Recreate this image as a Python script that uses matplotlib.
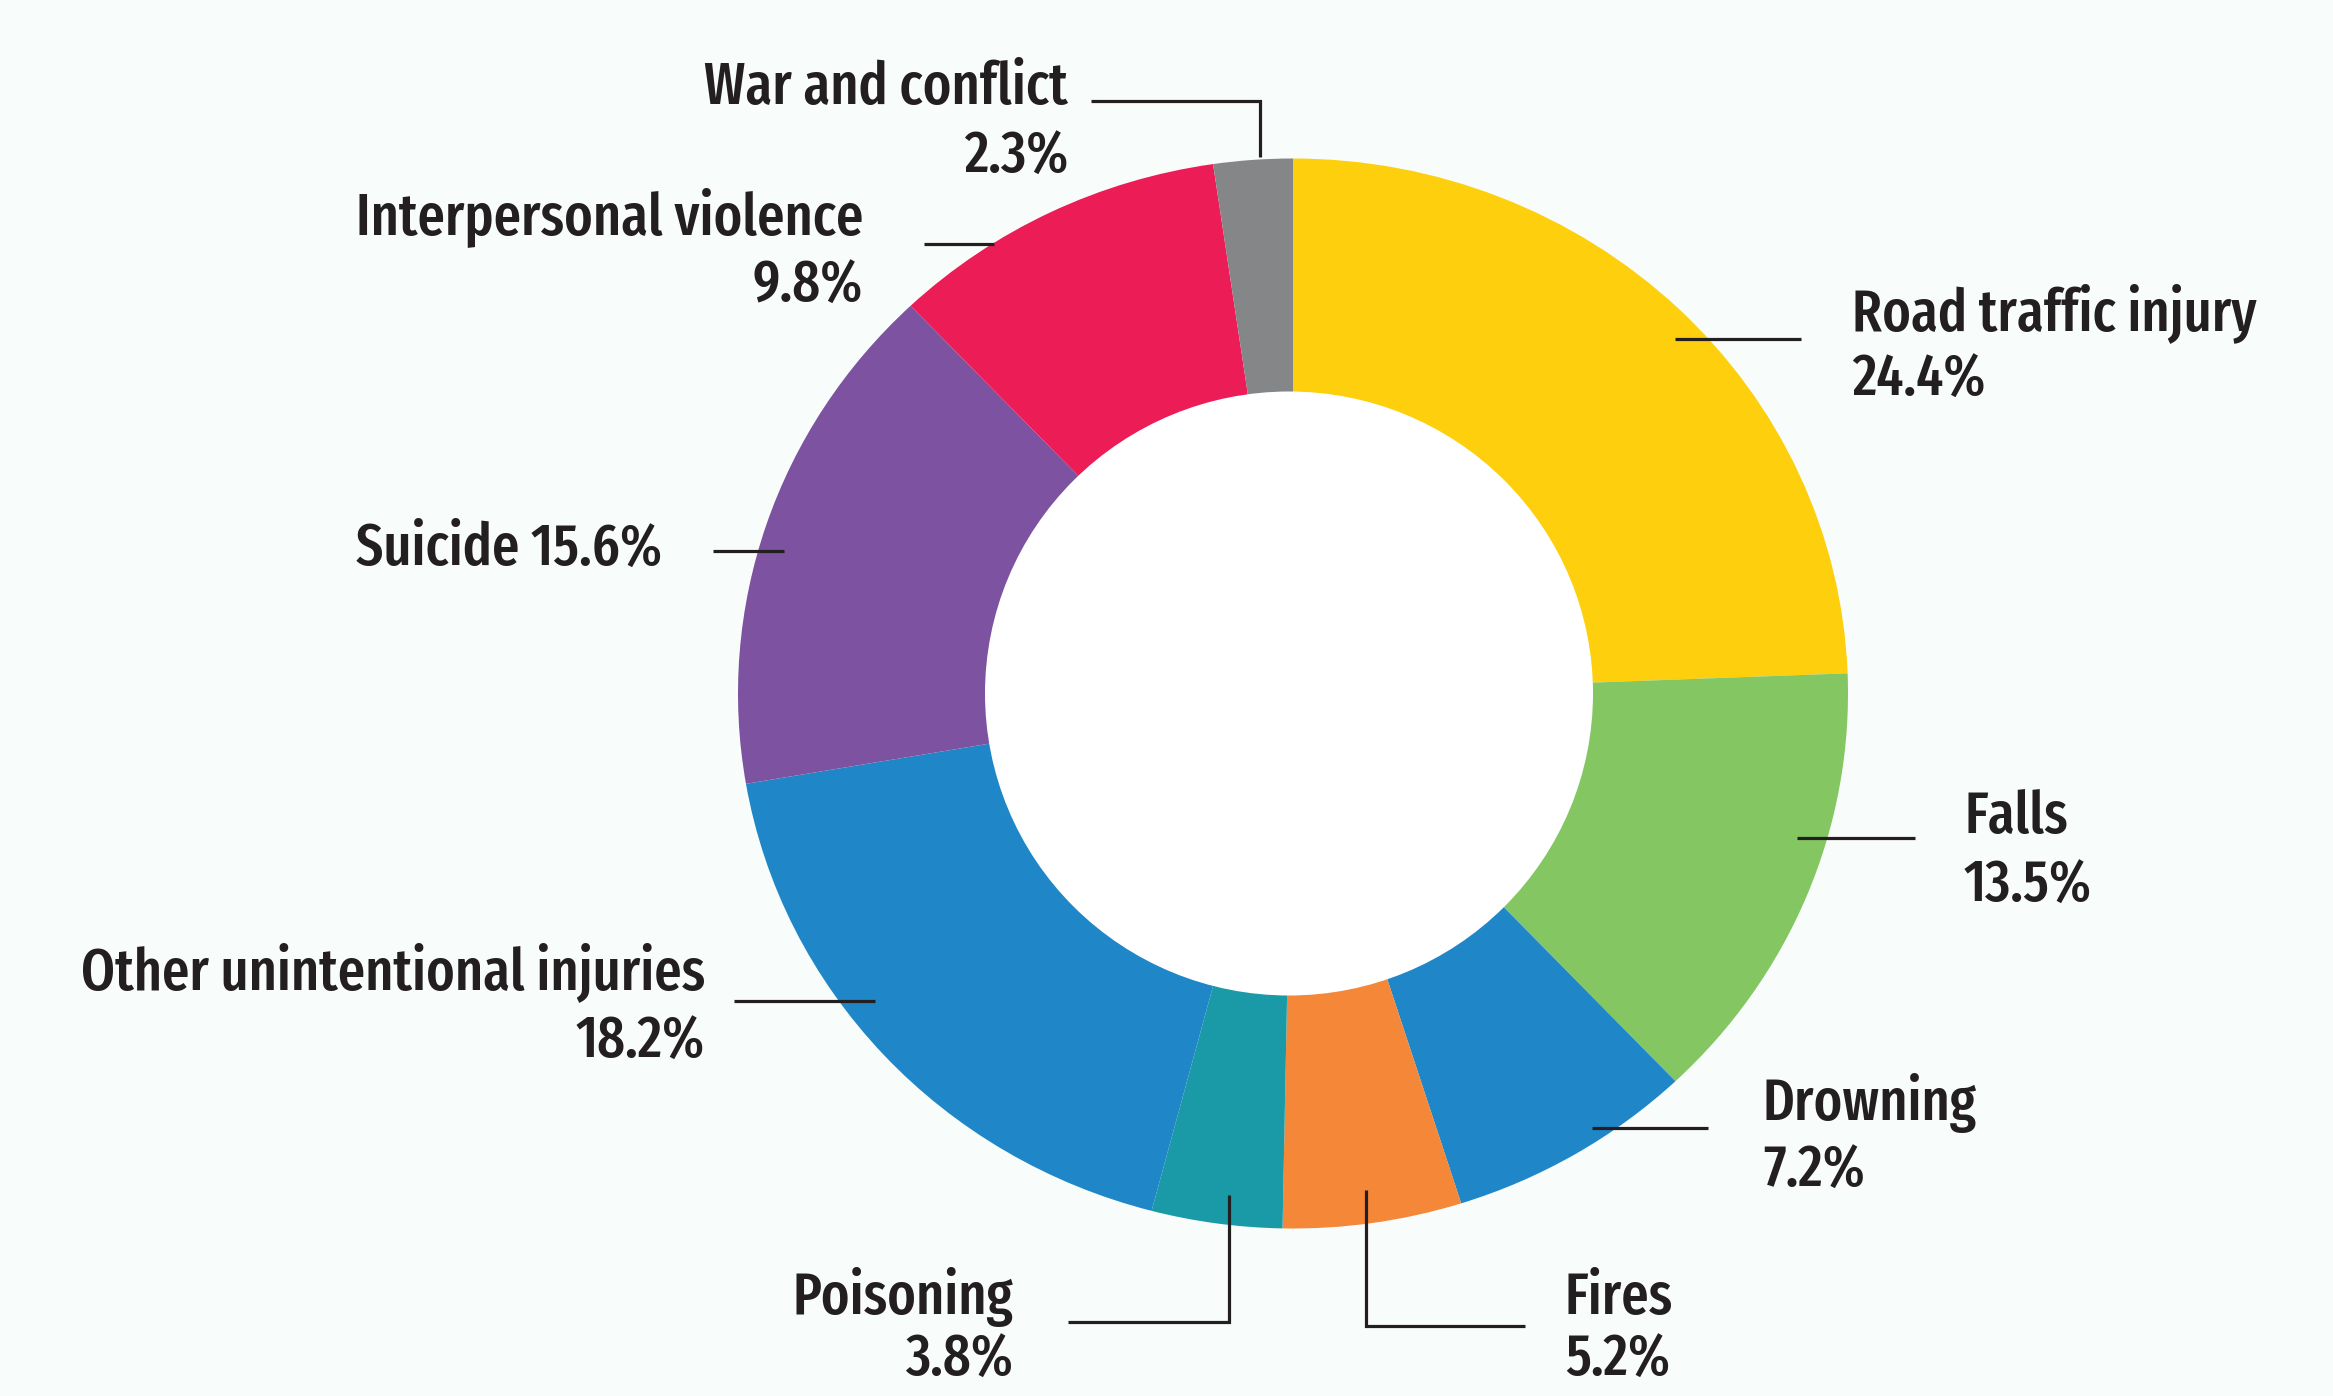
import os
import matplotlib
matplotlib.use("Agg")
import matplotlib.pyplot as plt
from matplotlib import font_manager
from matplotlib.patches import Ellipse

# ---- data ----
categories = ["Road traffic injury", "Falls", "Drowning", "Fires", "Poisoning",
              "Other unintentional injuries", "Suicide", "Interpersonal violence",
              "War and conflict"]
values = [24.4, 13.5, 7.2, 5.2, 3.8, 18.2, 15.6, 9.8, 2.3]
colors = ["#FDCF0C", "#84C661", "#1F87C7", "#F48738", "#1A9AA6",
          "#1F87C7", "#7D52A0", "#EC1C56", "#858688"]

W, H = 2333, 1396
BG = "#F8FCFB"
INK = "#231F20"


def pick_font():
    best = None
    for f in font_manager.fontManager.ttflist:
        base = os.path.basename(f.fname)
        low = base.lower()
        if "italic" in low or "oblique" in low:
            continue
        if "mono" in low or "serif" in low.replace("sans", ""):
            continue
        if "narrow" in low:
            s1 = 2
        elif "extracondensed" in low and "ultra" not in low:
            s1 = 4
        elif "semicondensed" in low:
            s1 = 1
        elif "condensed" in low:
            s1 = 3
        else:
            continue
        if "medium" in low:
            s2 = 3
        elif "regular" in low or "-" not in base:
            s2 = 2
        elif "semibold" in low:
            s2 = 1
        else:
            s2 = 0
        if "bold" in low and "semibold" not in low:
            s2 = -1
        if any(k in low for k in ["light", "thin", "black", "extrabold"]):
            s2 = -2
        score = (s1, s2)
        if best is None or score > best[0]:
            best = (score, f.fname)
    if best:
        return font_manager.FontProperties(fname=best[1])
    return font_manager.FontProperties(family="DejaVu Sans", stretch="condensed")


FP = pick_font()

fig = plt.figure(figsize=(W / 100, H / 100), dpi=100, facecolor=BG)

# donut geometry (pixels)
cx, cy, rx, ry = 1293, 693.5, 555, 535
ax = fig.add_axes([(cx - rx) / W, (H - (cy + ry)) / H, 2 * rx / W, 2 * ry / H])
ax.pie(values, colors=colors, startangle=90, counterclock=False, radius=1,
       wedgeprops=dict(linewidth=0, antialiased=True))
ax.set_aspect("auto")
ax.set_xlim(-1, 1)
ax.set_ylim(-1, 1)
ax.axis("off")
ax.add_patch(Ellipse((-4 / rx, 0), 2 * 304 / rx, 2 * 302 / ry, facecolor="white",
                     edgecolor="none", zorder=5))

# overlay for labels
ov = fig.add_axes([0, 0, 1, 1])
ov.set_xlim(0, W)
ov.set_ylim(H, 0)
ov.axis("off")
ov.patch.set_alpha(0)

# size text so that the longest label is about the reference width
renderer = fig.canvas.get_renderer()
probe = ov.text(0, 0, categories[5], fontproperties=FP, fontsize=40)
wpx = probe.get_window_extent(renderer).width
probe.remove()
FS = min(50, 40 * 625 / wpx)


def pct(v):
    return f"{v:.1f}%"


lw = 2.3


def line(xs, ys):
    ov.plot(xs, ys, color=INK, lw=lw, solid_capstyle="butt", solid_joinstyle="miter")


def txt(x, y, s, ha):
    ov.text(x, y, s, ha=ha, va="baseline", fontproperties=FP, fontsize=FS, color=INK)


def two(x, y1, y2, name, v, ha):
    txt(x, y1, name, ha)
    txt(x, y2, pct(v), ha)


# Road traffic injury
two(1852, 330, 396, categories[0], values[0], "left")
line([1675, 1801], [339, 339])
# Falls
two(1964, 833, 902, categories[1], values[1], "left")
line([1797, 1915], [838, 838])
# Drowning
two(1763, 1120, 1187, categories[2], values[2], "left")
line([1592, 1708], [1128, 1128])
# Fires
two(1565, 1314, 1376, categories[3], values[3], "left")
line([1366, 1366, 1525], [1190, 1326, 1326])
# Poisoning
two(1013, 1314, 1376, categories[4], values[4], "right")
line([1229, 1229, 1068], [1195, 1322, 1322])
# Other unintentional injuries
two(705, 989, 1058, categories[5], values[5], "right")
line([734, 875], [1001, 1001])
# Suicide
txt(662, 565, f"{categories[6]} {pct(values[6])}", "right")
line([713, 784], [551, 551])
# Interpersonal violence
two(863, 234, 302, categories[7], values[7], "right")
line([924, 994], [244, 244])
# War and conflict
two(1068, 104, 173, categories[8], values[8], "right")
line([1091, 1260, 1260], [101, 101, 157])

fig.savefig("out.png", dpi=100, facecolor=BG)
